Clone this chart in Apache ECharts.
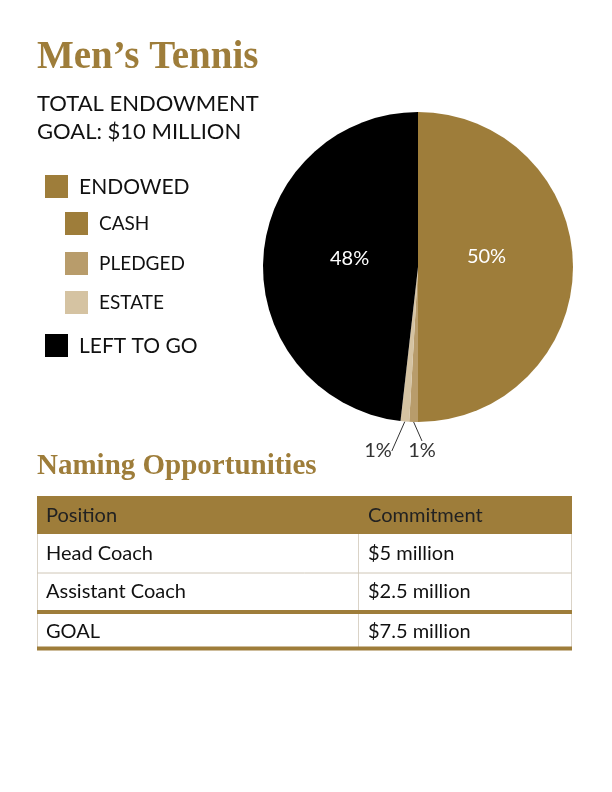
<!DOCTYPE html>
<html><head><meta charset="utf-8">
<script src="https://cdn.jsdelivr.net/npm/echarts@6/dist/echarts.min.js"></script>
<style>html,body{margin:0;padding:0;background:#fff}#c{width:612px;height:792px}</style>
</head><body><div id="c"></div>
<script>
// ---- data ----
const titleText = 'Men\u2019s Tennis';
const subtitleLines = ['TOTAL ENDOWMENT', 'GOAL: $10 MILLION'];
const sliceNames = ['Cash', 'Pledged', 'Estate', 'Left to go'];
const sliceValues = [50, 0.9, 0.9, 48.2];
const legendLabels = ['ENDOWED', 'CASH', 'PLEDGED', 'ESTATE', 'LEFT TO GO'];
const tableTitle = 'Naming Opportunities';
const tableHeader = ['Position', 'Commitment'];
const tablePositions = ['Head Coach', 'Assistant Coach', 'GOAL'];
const tableCommitments = ['$5 million', '$2.5 million', '$7.5 million'];

// ---- styles ----
const GOLD = '#9E7D3A', PLEDGED = '#B89C6B', ESTATE = '#D5C3A2', BLACK = '#000000';
const sliceColors = [GOLD, PLEDGED, ESTATE, BLACK];
const legendColors = [GOLD, GOLD, PLEDGED, ESTATE, BLACK];
const SANS = 'Lato, "Noto Sans", sans-serif';
const SERIF = '"Liberation Serif", serif';

const chart = echarts.init(document.getElementById('c'), null, {renderer: 'canvas'});

const graphic = [];
// title
graphic.push({type: 'text', left: 37, top: 38, style: {text: titleText, font: 'bold 39px ' + SERIF, fill: GOLD}});
subtitleLines.forEach((t, i) => graphic.push({type: 'text', x: 37, y: 104 + i * 28,
  style: {text: t, font: '22px ' + SANS, fill: '#111', verticalAlign: 'middle'}}));
// legend
const legPos = [
  {sx: 45, sy: 175, tx: 79}, {sx: 65, sy: 212, tx: 99}, {sx: 65, sy: 252, tx: 99},
  {sx: 65, sy: 291, tx: 99}, {sx: 45, sy: 334, tx: 79}
];
legendLabels.forEach((t, i) => {
  const p = legPos[i];
  graphic.push({type: 'rect', shape: {x: p.sx, y: p.sy, width: 23, height: 23}, style: {fill: legendColors[i]}});
  graphic.push({type: 'text', x: p.tx, y: p.sy + 12, style: {text: t, font: (i === 0 || i === 4 ? '21px ' : '19px ') + SANS,
    fill: '#111', verticalAlign: 'middle'}});
});
// table title
graphic.push({type: 'text', left: 37, top: 452, style: {text: tableTitle, font: 'bold 29px ' + SERIF, fill: GOLD}});
// table
const TL = 37, TR = 572, COL = 358, HT = 496, HB = 534, RH = 38.5;
graphic.push({type: 'rect', shape: {x: TL, y: HT, width: TR - TL, height: HB - HT}, style: {fill: GOLD}});
const tBottom = HB + RH * 3;
graphic.push({type: 'line', shape: {x1: TL + 0.5, y1: HB, x2: TL + 0.5, y2: tBottom}, style: {stroke: '#DAD3C7', lineWidth: 1}});
graphic.push({type: 'line', shape: {x1: TR - 0.5, y1: HB, x2: TR - 0.5, y2: tBottom}, style: {stroke: '#DAD3C7', lineWidth: 1}});
graphic.push({type: 'line', shape: {x1: COL + 0.5, y1: HB, x2: COL + 0.5, y2: tBottom}, style: {stroke: '#DAD3C7', lineWidth: 1}});
graphic.push({type: 'line', shape: {x1: TL, y1: HB + RH + 0.5, x2: TR, y2: HB + RH + 0.5}, style: {stroke: '#CFC6B6', lineWidth: 1}});
graphic.push({type: 'rect', shape: {x: TL, y: HB + RH * 2 - 1, width: TR - TL, height: 4}, style: {fill: GOLD}});
graphic.push({type: 'rect', shape: {x: TL, y: tBottom - 3, width: TR - TL, height: 4}, style: {fill: GOLD}});
graphic.push({type: 'text', x: 46, y: (HT + HB) / 2 + 1, style: {text: tableHeader[0], font: '20px ' + SANS, fill: '#222', verticalAlign: 'middle'}});
graphic.push({type: 'text', x: 368, y: (HT + HB) / 2 + 1, style: {text: tableHeader[1], font: '20px ' + SANS, fill: '#222', verticalAlign: 'middle'}});
tablePositions.forEach((t, i) => {
  const cy = HB + RH * i + RH / 2 + (i === 2 ? 1 : 0);
  graphic.push({type: 'text', x: 46, y: cy, style: {text: t, font: '20px ' + SANS, fill: '#111', verticalAlign: 'middle'}});
  graphic.push({type: 'text', x: 368, y: cy, style: {text: tableCommitments[i], font: '20px ' + SANS, fill: '#111', verticalAlign: 'middle'}});
});

const labelSpots = {1: {x: 422, y: 451}, 2: {x: 378, y: 451}};
const labelNudge = {0: {dx: -12, dy: -10}, 3: {dx: 12, dy: -4}};

chart.setOption({
  backgroundColor: '#ffffff',
  animation: false,
  graphic: graphic,
  series: [{
    type: 'pie',
    center: [418, 267],
    radius: [0, 155],
    startAngle: 90,
    clockwise: true,
    avoidLabelOverlap: false,
    data: sliceNames.map((n, i) => ({
      name: n, value: sliceValues[i],
      itemStyle: {color: sliceColors[i]},
      label: (i === 0 || i === 3) ? {position: 'inside', color: '#fff', fontSize: 20} :
        {position: 'outside', color: '#333', fontSize: 20},
      labelLine: {show: !(i === 0 || i === 3), length: 8, length2: 0, lineStyle: {color: '#333', width: 1}}
    })),
    label: {
      show: true, fontFamily: SANS,
      formatter: p => Math.round(p.percent) + '%'
    },
    labelLayout: function (params) {
      const s = labelSpots[params.dataIndex];
      if (s) return {x: s.x, y: s.y, align: 'center', verticalAlign: 'middle'};
      const d = labelNudge[params.dataIndex];
      if (d) return {dx: d.dx, dy: d.dy};
      return {};
    },
    emphasis: {disabled: true}
  }]
});
</script></body></html>
